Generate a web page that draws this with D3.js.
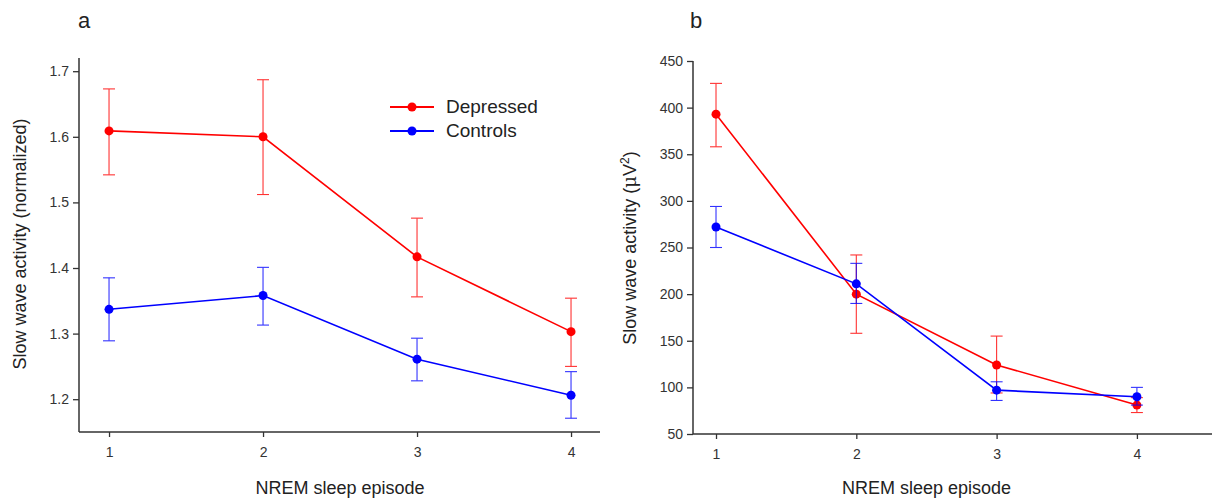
<!DOCTYPE html>
<html><head><meta charset="utf-8">
<script src="https://cdn.jsdelivr.net/npm/d3@7"></script>
<style>
body{margin:0;background:#fff;}
svg{font-family:"Liberation Sans",Arial,sans-serif;}
</style></head>
<body><svg id="c" width="1212" height="500"></svg>
<script>
const episodes = [1, 2, 3, 4];
const seriesNames = ["Depressed", "Controls"];
// Panel a (normalized)
const aDepMean = [1.609, 1.600, 1.417, 1.303];
const aDepHi   = [1.673, 1.687, 1.476, 1.354];
const aDepLo   = [1.542, 1.512, 1.356, 1.250];
const aCtlMean = [1.337, 1.358, 1.261, 1.206];
const aCtlHi   = [1.385, 1.401, 1.293, 1.242];
const aCtlLo   = [1.289, 1.313, 1.228, 1.171];
const aTicks = [1.2, 1.3, 1.4, 1.5, 1.6, 1.7];
// Panel b (µV²)
const bDepMean = [393, 200, 124, 81];
const bDepHi   = [426, 242, 155, 89];
const bDepLo   = [358, 158, 94, 73];
const bCtlMean = [272, 211, 97, 90];
const bCtlHi   = [294, 233, 106, 100];
const bCtlLo   = [250, 190, 86, 81];
const bTicks = [50, 100, 150, 200, 250, 300, 350, 400, 450];
const colors = ["#ff0000", "#0000ff"];

const svg = d3.select("#c");
const axisCol = "#333";

function panel(cfg){
  const g = svg.append("g");
  const x = d3.scaleLinear().domain(cfg.xDom).range([cfg.x0, cfg.x1]);
  const y = d3.scaleLinear().domain(cfg.yDom).range([cfg.yb, cfg.yt]);
  const ya = g.append("g").attr("transform",`translate(${cfg.x0},0)`)
    .call(d3.axisLeft(y).tickValues(cfg.yTicks).tickSize(6).tickPadding(4).tickFormat(cfg.fmt));
  const xa = g.append("g").attr("transform",`translate(0,${cfg.yb})`)
    .call(d3.axisBottom(x).tickValues(episodes).tickSize(5).tickPadding(10).tickFormat(d3.format("d")));
  [ya,xa].forEach(a=>{
    a.select(".domain").remove();
    a.selectAll(".tick line").attr("stroke",axisCol).attr("stroke-width",1.3);
    a.selectAll(".tick text").attr("fill","#333").style("font-size","14px");
  });
  g.append("line").attr("x1",cfg.x0).attr("x2",cfg.x0).attr("y1",cfg.yt).attr("y2",cfg.yb)
    .attr("stroke",axisCol).attr("stroke-width",1.5);
  g.append("line").attr("x1",cfg.x0).attr("x2",cfg.xEnd).attr("y1",cfg.yb).attr("y2",cfg.yb)
    .attr("stroke",axisCol).attr("stroke-width",1.5);
  cfg.series.forEach((s,i)=>{
    const col = colors[i];
    const pts = episodes.map((e,j)=>({x:e, m:s.mean[j], hi:s.hi[j], lo:s.lo[j]}));
    const eb = g.append("g").attr("stroke",col).attr("stroke-width",1.1).attr("opacity",0.8);
    pts.forEach(p=>{
      eb.append("line").attr("x1",x(p.x)).attr("x2",x(p.x)).attr("y1",y(p.hi)).attr("y2",y(p.lo));
      eb.append("line").attr("x1",x(p.x)-6).attr("x2",x(p.x)+6).attr("y1",y(p.hi)).attr("y2",y(p.hi));
      eb.append("line").attr("x1",x(p.x)-6).attr("x2",x(p.x)+6).attr("y1",y(p.lo)).attr("y2",y(p.lo));
    });
    g.append("path").datum(pts).attr("fill","none").attr("stroke",col).attr("stroke-width",1.6)
      .attr("d", d3.line().x(d=>x(d.x)).y(d=>y(d.m)));
    g.selectAll(null).data(pts).join("circle").attr("cx",d=>x(d.x)).attr("cy",d=>y(d.m))
      .attr("r",4.5).attr("fill",col);
  });
  g.append("text").attr("x",cfg.letterX).attr("y",28).text(cfg.letter)
    .style("font-size","22px").attr("fill","#222");
  g.append("text").attr("x",(x(1)+x(4))/2).attr("y",494).attr("text-anchor","middle")
    .style("font-size","18px").attr("fill","#222").text("NREM sleep episode");
  const yt = g.append("text").attr("transform",`translate(${cfg.yTitleX},${cfg.yTitleY}) rotate(-90)`)
    .attr("text-anchor","middle").style("font-size","18px").attr("fill","#222");
  cfg.yTitle(yt);
  return {x,y,g};
}

panel({
  xDom:[0.805,4.2], x0:79, x1:79+(4.2-0.805)*154, xEnd:600,
  yDom:[1.15,1.72], yb:432, yt:432-0.57*656,
  yTicks:aTicks, fmt:d3.format(".1f"),
  series:[{mean:aDepMean,hi:aDepHi,lo:aDepLo},{mean:aCtlMean,hi:aCtlHi,lo:aCtlLo}],
  letter:"a", letterX:78, yTitleX:26, yTitleY:244,
  yTitle: t=>t.text("Slow wave activity (normalized)")
});

panel({
  xDom:[0.836,4.5], x0:693, x1:693+(4.5-0.836)*140.3, xEnd:1212,
  yDom:[50,450], yb:434, yt:61,
  yTicks:bTicks, fmt:d3.format("d"),
  series:[{mean:bDepMean,hi:bDepHi,lo:bDepLo},{mean:bCtlMean,hi:bCtlHi,lo:bCtlLo}],
  letter:"b", letterX:690, yTitleX:636, yTitleY:248,
  yTitle: t=>{
    t.append("tspan").text("Slow wave activity (");
    t.append("tspan").style("font-family","'DejaVu Serif',serif").text("\u03bc");
    t.append("tspan").text("V");
    t.append("tspan").attr("dy",-7).style("font-size","12px").text("2");
    t.append("tspan").attr("dy",7).text(")");
  }
});

const lg = svg.append("g");
seriesNames.forEach((n,i)=>{
  const yy = 107 + i*24;
  lg.append("line").attr("x1",390).attr("x2",434).attr("y1",yy).attr("y2",yy)
    .attr("stroke",colors[i]).attr("stroke-width",1.8);
  lg.append("circle").attr("cx",412).attr("cy",yy).attr("r",4.5).attr("fill",colors[i]);
  lg.append("text").attr("x",446).attr("y",yy+6).text(n).style("font-size","19px").attr("fill","#222");
});
</script></body></html>
